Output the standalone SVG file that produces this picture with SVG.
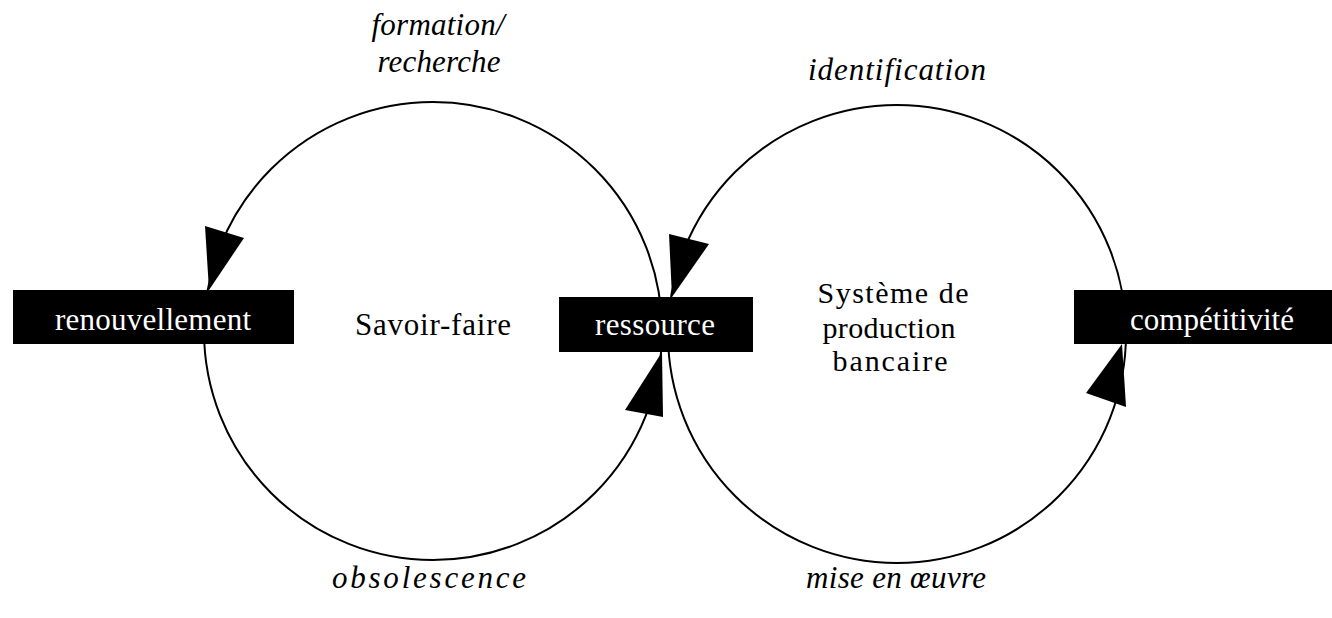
<svg xmlns="http://www.w3.org/2000/svg" width="1332" height="618" viewBox="0 0 1332 618">
  <style>
    .loop { fill: none; stroke: #000; stroke-width: 2; }
    .head { fill: #000; stroke: none; }
    .box { fill: #000; }
    .boxtxt { fill: #fff; font-family: "Liberation Serif", "Times New Roman", serif; font-size: 31px; text-anchor: middle; }
    .lbl { fill: #000; font-family: "Liberation Serif", "Times New Roman", serif; font-size: 31px; text-anchor: middle; }
    .sys { fill: #000; font-family: "Liberation Serif", "Times New Roman", serif; font-size: 30px; text-anchor: middle; }
    .flow { fill: #000; font-family: "Liberation Serif", "Times New Roman", serif; font-size: 31px; font-style: italic; text-anchor: middle; }
  </style>
  <rect width="1332" height="618" fill="#fff"/>

  <!-- the two loops and their arrowheads -->
  <g id="connectors">
    <circle class="loop" cx="433" cy="331" r="229"/>
    <circle class="loop" cx="897" cy="334" r="229"/>
    <polygon class="head" points="205,226 244,238 209,290"/>
    <polygon class="head" points="669,234 709,244 672,297"/>
    <polygon class="head" points="662,352 625,410 663,417"/>
    <polygon class="head" points="1122,344 1086,393 1126,407"/>
  </g>

  <g id="renouvellement">
    <rect class="box" x="13" y="290" width="281" height="54"/>
    <text class="boxtxt" x="153" y="330" textLength="196" lengthAdjust="spacing">renouvellement</text>
  </g>

  <g id="savoir-faire">
    <text class="lbl" x="433" y="335" textLength="156" lengthAdjust="spacing">Savoir-faire</text>
  </g>

  <g id="ressource">
    <rect class="box" x="559" y="297" width="194" height="55"/>
    <text class="boxtxt" x="655" y="335" textLength="120" lengthAdjust="spacing">ressource</text>
  </g>

  <g id="systeme">
    <text class="sys" x="893" y="303" textLength="151" lengthAdjust="spacing">Système de</text>
    <text class="sys" x="889" y="338" textLength="133" lengthAdjust="spacing">production</text>
    <text class="sys" x="890" y="371" textLength="115" lengthAdjust="spacing">bancaire</text>
  </g>

  <g id="competitivite">
    <rect class="box" x="1074" y="290" width="258" height="54"/>
    <text class="boxtxt" x="1212" y="330" textLength="164" lengthAdjust="spacing">compétitivité</text>
  </g>

  <g id="flow-labels">
    <text class="flow" x="438" y="35" textLength="133" lengthAdjust="spacing">formation/</text>
    <text class="flow" x="439" y="72" textLength="123" lengthAdjust="spacing">recherche</text>
    <text class="flow" x="897" y="80" textLength="178" lengthAdjust="spacing">identification</text>
    <text class="flow" x="429" y="588" textLength="194" lengthAdjust="spacing">obsolescence</text>
    <text class="flow" x="896" y="588" textLength="180" lengthAdjust="spacing">mise en œuvre</text>
  </g>
</svg>
